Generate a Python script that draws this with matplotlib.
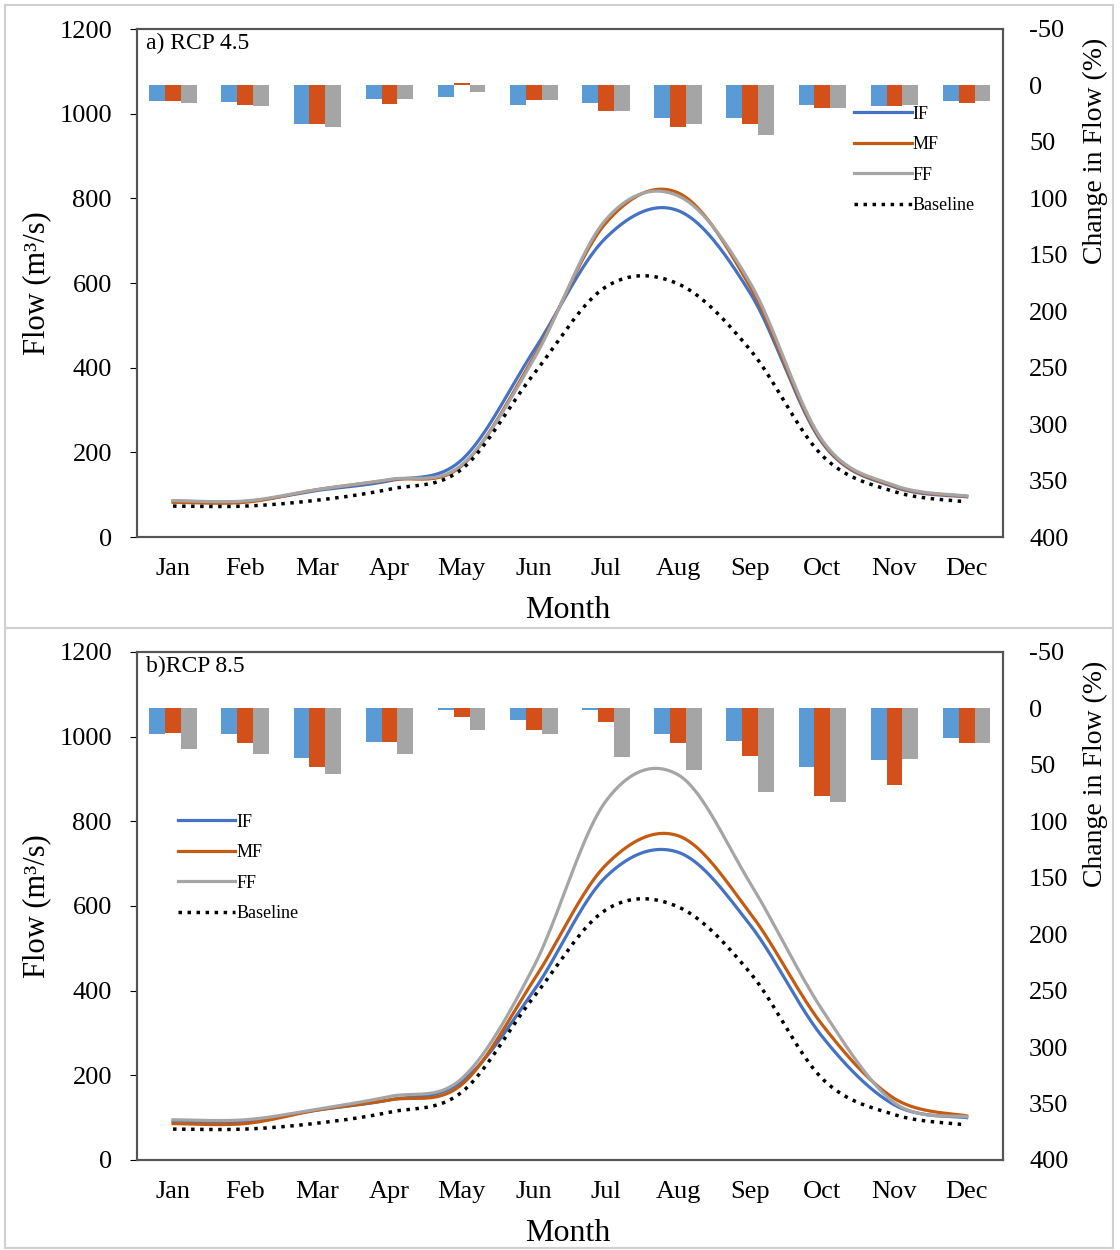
import matplotlib
matplotlib.use('Agg')
import matplotlib.pyplot as plt
from matplotlib.patches import Rectangle
import numpy as np

plt.rcParams['font.family'] = ['Liberation Serif', 'DejaVu Serif']
plt.rcParams['axes.unicode_minus'] = False

# dados
months = ['Jan', 'Feb', 'Mar', 'Apr', 'May', 'Jun', 'Jul', 'Aug', 'Sep', 'Oct', 'Nov', 'Dec']

baseline = [73, 73, 87, 113, 160, 385, 591, 598, 442, 192, 107, 83]

# RCP 4.5 - vazao (m3/s)
if_45 = [85, 84, 110, 133, 182, 440, 707, 771, 576, 222, 118, 95]
mf_45 = [82, 82, 112, 135, 168, 425, 742, 813, 591, 225, 120, 96]
ff_45 = [86, 85, 112, 136, 170, 420, 750, 806, 600, 228, 122, 97]

# RCP 4.5 - mudanca (%)
if_45_pct = [14, 14.5, 34.5, 12, 10.5, 17, 15.5, 28.5, 28.5, 17, 18, 13.5]
mf_45_pct = [14, 17.5, 34.5, 16.5, -2, 12.5, 22.5, 37, 34, 20, 18, 15.5]
ff_45_pct = [15.5, 18.5, 37, 12, 6, 12.5, 23, 34.5, 43.5, 20, 17, 13.5]

# RCP 8.5 - vazao (m3/s)
if_85 = [92, 92, 118, 142, 185, 400, 669, 727, 555, 291, 130, 100]
mf_85 = [86, 86, 118, 142, 178, 425, 697, 766, 583, 319, 145, 104]
ff_85 = [95, 95, 120, 150, 192, 457, 848, 910, 654, 354, 135, 102]

# RCP 8.5 - mudanca (%)
if_85_pct = [23, 23, 44, 30, 1, 10, 1.5, 22.5, 28.5, 51.5, 46, 26]
mf_85_pct = [22, 30.5, 52, 30, 7.5, 19, 12, 30.5, 42.5, 78, 67.5, 31]
ff_85_pct = [36, 40.5, 58, 40, 19, 22.5, 43, 54.5, 74, 83, 44.5, 30.5]

c_blue_bar = '#5B9BD5'
c_orange_bar = '#D4501A'
c_gray = '#A5A5A5'
c_blue_line = '#4472C4'
c_orange_line = '#C55A11'


def smooth(x, y, n=40):
    # curva suavizada tipo Excel (Bezier pelos pontos)
    x = np.asarray(x, float)
    y = np.asarray(y, float)
    px = np.concatenate([[x[0]], x, [x[-1]]])
    py = np.concatenate([[y[0]], y, [y[-1]]])
    xs, ys = [], []
    t = np.linspace(0, 1, n)
    for i in range(1, len(px) - 2):
        p0 = np.array([px[i], py[i]])
        p3 = np.array([px[i + 1], py[i + 1]])
        p1 = p0 + (np.array([px[i + 1], py[i + 1]]) - np.array([px[i - 1], py[i - 1]])) / 6
        p2 = p3 - (np.array([px[i + 2], py[i + 2]]) - np.array([px[i], py[i]])) / 6
        b = ((1 - t) ** 3)[:, None] * p0 + (3 * (1 - t) ** 2 * t)[:, None] * p1 \
            + (3 * (1 - t) * t ** 2)[:, None] * p2 + (t ** 3)[:, None] * p3
        xs.extend(b[:, 0])
        ys.extend(b[:, 1])
    return np.array(xs), np.array(ys)


fig = plt.figure(figsize=(11.2, 12.5), dpi=100)

# molduras cinza de cada painel
fig.patches.append(Rectangle((5 / 1120, 1 - 628 / 1250), 1108 / 1120, 623 / 1250,
                             transform=fig.transFigure, fill=False, ec='#D0D0D0', lw=1.5))
fig.patches.append(Rectangle((5 / 1120, 1 - 1248 / 1250), 1108 / 1120, 620 / 1250,
                             transform=fig.transFigure, fill=False, ec='#D0D0D0', lw=1.5))

x = np.arange(1, 13)
paineis = [
    (0.5704, 'a) RCP 4.5', if_45, mf_45, ff_45, if_45_pct, mf_45_pct, ff_45_pct, (0.828, 0.849)),
    (0.072, 'b)RCP 8.5', if_85, mf_85, ff_85, if_85_pct, mf_85_pct, ff_85_pct, (0.047, 0.682)),
]

for bottom, titulo, yif, ymf, yff, pif, pmf, pff, leg_pos in paineis:
    ax = fig.add_axes([0.1223, bottom, 0.773, 0.4064])
    ax2 = ax.twinx()
    ax.set_zorder(ax2.get_zorder() + 1)
    ax.patch.set_visible(False)

    # barras de mudanca (%) no eixo da direita
    w = 0.22
    ax2.bar(x - w, pif, w, color=c_blue_bar)
    ax2.bar(x, pmf, w, color=c_orange_bar)
    ax2.bar(x + w, pff, w, color=c_gray)
    ax2.set_ylim(400, -50)
    ax2.set_yticks(np.arange(-50, 401, 50))
    ax2.tick_params(axis='y', labelsize=19, length=0, pad=19)
    ax2.set_ylabel('Change in Flow (%)', fontsize=20)
    ax2.yaxis.set_label_coords(1.093, 0.76)

    # linhas de vazao
    xs, ys = smooth(x, yif)
    ax.plot(xs, ys, color=c_blue_line, lw=2.3, label='IF')
    xs, ys = smooth(x, ymf)
    ax.plot(xs, ys, color=c_orange_line, lw=2.3, label='MF')
    xs, ys = smooth(x, yff)
    ax.plot(xs, ys, color=c_gray, lw=2.3, label='FF')
    xs, ys = smooth(x, baseline)
    ax.plot(xs, ys, color='black', lw=2.5, linestyle=(0, (1, 1.6)), label='Baseline')

    ax.set_xlim(0.5, 12.5)
    ax.set_ylim(0, 1200)
    ax.set_yticks(np.arange(0, 1201, 200))
    ax.set_xticks(x)
    ax.set_xticklabels(months)
    ax.tick_params(axis='x', labelsize=19, length=0, pad=15)
    ax.tick_params(axis='y', labelsize=19, length=5, pad=13)
    ax.set_ylabel('Flow (m³/s)', fontsize=22)
    ax.yaxis.set_label_coords(-0.099, 0.5)
    ax.set_xlabel('Month', fontsize=23)
    ax.xaxis.set_label_coords(0.498, -0.116)

    for a in (ax, ax2):
        for s in a.spines.values():
            s.set_color('#555555')
            s.set_linewidth(1.5)

    ax.text(0.01, 0.993, titulo, transform=ax.transAxes, fontsize=17, va='top', ha='left')

    ax.legend(loc='upper left', bbox_to_anchor=leg_pos, frameon=False, fontsize=13,
              handlelength=3.2, handletextpad=0.05, labelspacing=0.75,
              borderaxespad=0, borderpad=0)

fig.savefig('out.png', dpi=100)
